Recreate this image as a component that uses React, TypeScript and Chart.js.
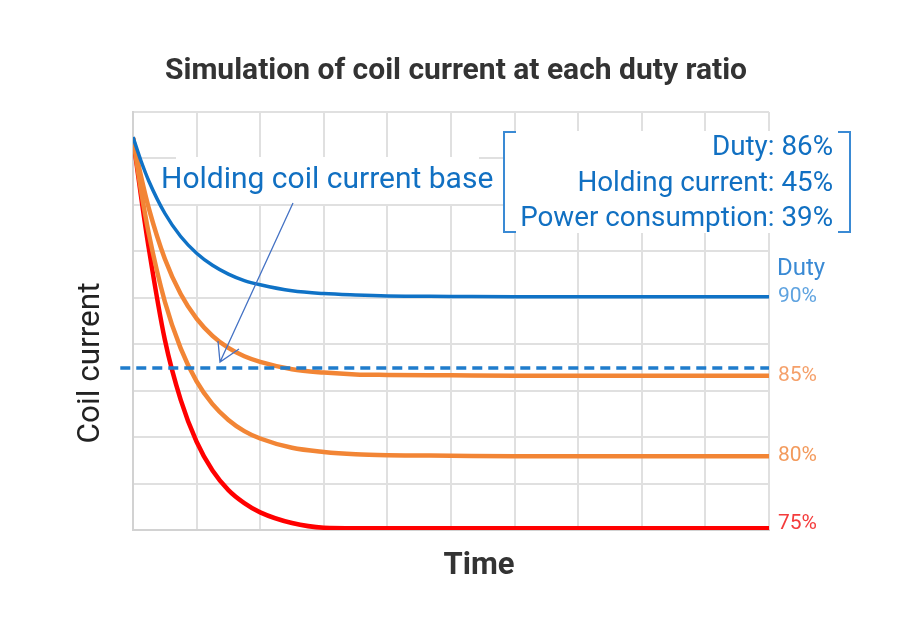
import React, { useEffect, useRef } from "react";
import { Chart, registerables } from "chart.js";

Chart.register(...registerables);

// ---- data ----
const times = [0, 0.125, 0.25, 0.5, 0.75, 1, 1.25, 1.5, 1.75, 2, 2.5, 3, 3.5, 4, 5, 6, 7, 8, 9, 10];
const duty90 = [8.46, 7.95, 7.51, 6.82, 6.32, 5.96, 5.70, 5.51, 5.37, 5.28, 5.15, 5.09, 5.06, 5.04, 5.03, 5.02, 5.02, 5.02, 5.02, 5.02];
const duty85 = [8.44, 7.62, 6.92, 5.84, 5.08, 4.55, 4.18, 3.92, 3.74, 3.62, 3.46, 3.39, 3.35, 3.34, 3.33, 3.32, 3.32, 3.32, 3.32, 3.32];
const duty80 = [8.44, 7.32, 6.37, 4.92, 3.91, 3.20, 2.71, 2.37, 2.13, 1.97, 1.77, 1.68, 1.63, 1.61, 1.60, 1.59, 1.59, 1.59, 1.59, 1.59];
const duty75 = [8.44, 7.20, 6.05, 4.10, 2.80, 1.90, 1.28, 0.86, 0.58, 0.38, 0.15, 0.05, 0.04, 0.04, 0.04, 0.04, 0.04, 0.04, 0.04, 0.04];
const baseTimes = [-0.2, 10];
const baseLevel = [3.49, 3.49];
const dutyLabels = ["90%", "85%", "80%", "75%"];
const boxLines = ["Duty: 86%", "Holding current: 45%", "Power consumption: 39%"];

const TITLE = "Simulation of coil current at each duty ratio";
const X_TITLE = "Time";
const Y_TITLE = "Coil current";
const BASE_LABEL = "Holding coil current base";
const DUTY_HEADER = "Duty";

const FONT = "Roboto";

const toPoints = (xs: number[], ys: number[]) => xs.map((x, i) => ({ x, y: ys[i] }));

const decorPlugin = {
  id: "decor",
  beforeDatasetsDraw(chart: any) {
    const ctx = chart.ctx;
    ctx.save();
    // white label backgrounds
    ctx.fillStyle = "#ffffff";
    ctx.fillRect(176, 157, 303, 47);
    ctx.fillRect(503, 131, 349, 102);
    // base label
    ctx.fillStyle = "#1170c2";
    ctx.font = `30px ${FONT}`;
    ctx.textAlign = "left";
    ctx.textBaseline = "alphabetic";
    ctx.fillText(BASE_LABEL, 161, 188);
    // bracket box
    ctx.strokeStyle = "#3a8ad4";
    ctx.lineWidth = 2;
    ctx.beginPath();
    ctx.moveTo(516, 132);
    ctx.lineTo(504, 132);
    ctx.lineTo(504, 232);
    ctx.lineTo(516, 232);
    ctx.moveTo(838, 132);
    ctx.lineTo(850, 132);
    ctx.lineTo(850, 232);
    ctx.lineTo(838, 232);
    ctx.stroke();
    ctx.fillStyle = "#1170c2";
    ctx.font = `27.8px ${FONT}`;
    ctx.textAlign = "right";
    const baselines = [155, 191, 226];
    boxLines.forEach((t, i) => ctx.fillText(t, 833, baselines[i]));
    ctx.restore();
  },
  afterDatasetsDraw(chart: any) {
    const ctx = chart.ctx;
    ctx.save();
    // arrow
    ctx.strokeStyle = "#4472c4";
    ctx.lineWidth = 1.3;
    ctx.beginPath();
    ctx.moveTo(293, 203);
    ctx.lineTo(220, 362);
    ctx.moveTo(218, 341);
    ctx.lineTo(220, 362);
    ctx.lineTo(239, 349);
    ctx.stroke();

    // titles
    ctx.fillStyle = "#333333";
    ctx.textAlign = "center";
    ctx.textBaseline = "middle";
    ctx.font = `bold 30px ${FONT}`;
    ctx.fillText(TITLE, 456, 71);
    ctx.font = `bold 31px ${FONT}`;
    ctx.fillText(X_TITLE, 479, 566);
    ctx.save();
    ctx.translate(91, 363);
    ctx.rotate(-Math.PI / 2);
    ctx.fillStyle = "#222222";
    ctx.font = `31.5px ${FONT}`;
    ctx.fillText(Y_TITLE, 0, 0);
    ctx.restore();

    // right-side duty labels
    const yScale = chart.scales.y;
    const series = [duty90, duty85, duty80, duty75];
    const colors = ["#5fa3e0", "#f5a06a", "#f39a5c", "#f43c3c"];
    ctx.textAlign = "left";
    ctx.textBaseline = "middle";
    ctx.font = `24px ${FONT}`;
    ctx.fillStyle = "#3a8ad4";
    ctx.fillText(DUTY_HEADER, 777, 269);
    ctx.font = `21px ${FONT}`;
    series.forEach((s, i) => {
      let y = yScale.getPixelForValue(s[s.length - 1]);
      y = Math.min(y, yScale.bottom - 6);
      ctx.fillStyle = colors[i];
      ctx.fillText(dutyLabels[i], 778, y);
    });
    ctx.restore();
  },
};

export default function App() {
  const ref = useRef<HTMLCanvasElement>(null);
  useEffect(() => {
    if (!ref.current) return;
    const chart = new Chart(ref.current, {
      type: "line",
      data: {
        datasets: [
          {
            label: "base",
            data: toPoints(baseTimes, baseLevel),
            borderColor: "#1f7ccc",
            borderWidth: 3.5,
            borderDash: [10, 6],
            pointRadius: 0,
            clip: false as any,
            order: 0,
          },
          {
            label: dutyLabels[0],
            data: toPoints(times, duty90),
            borderColor: "#0f72c6",
            borderWidth: 3.5,
            pointRadius: 0,
            cubicInterpolationMode: "monotone",
            order: 1,
          },
          {
            label: dutyLabels[1],
            data: toPoints(times, duty85),
            borderColor: "#f28535",
            borderWidth: 4.5,
            pointRadius: 0,
            cubicInterpolationMode: "monotone",
            order: 2,
          },
          {
            label: dutyLabels[2],
            data: toPoints(times, duty80),
            borderColor: "#f28535",
            borderWidth: 4.5,
            pointRadius: 0,
            cubicInterpolationMode: "monotone",
            order: 3,
          },
          {
            label: dutyLabels[3],
            data: toPoints(times, duty75),
            borderColor: "#ff0000",
            borderWidth: 4.5,
            pointRadius: 0,
            cubicInterpolationMode: "monotone",
            order: 4,
          },
        ],
      },
      options: {
        responsive: false,
        animation: false,
        layout: { padding: { left: 133, right: 145, top: 112, bottom: 109 } },
        plugins: { legend: { display: false }, tooltip: { enabled: false }, title: { display: false } },
        scales: {
          x: {
            type: "linear",
            min: 0,
            max: 10,
            ticks: { display: false, stepSize: 1 },
            grid: { color: "#e0e0e0", lineWidth: 2, drawTicks: false },
            border: { color: "#d2d2d2", width: 2 },
          },
          y: {
            type: "linear",
            min: 0,
            max: 9,
            ticks: { display: false, stepSize: 1 },
            grid: { color: "#e0e0e0", lineWidth: 2, drawTicks: false },
            border: { color: "#d2d2d2", width: 2 },
          },
        },
      },
      plugins: [decorPlugin],
    });
    return () => chart.destroy();
  }, []);
  return (
    <div style={{ position: "fixed", left: 0, top: 0, width: 914, height: 639, background: "#ffffff" }}>
      <canvas ref={ref} width={914} height={639} style={{ width: 914, height: 639, display: "block" }} />
    </div>
  );
}
